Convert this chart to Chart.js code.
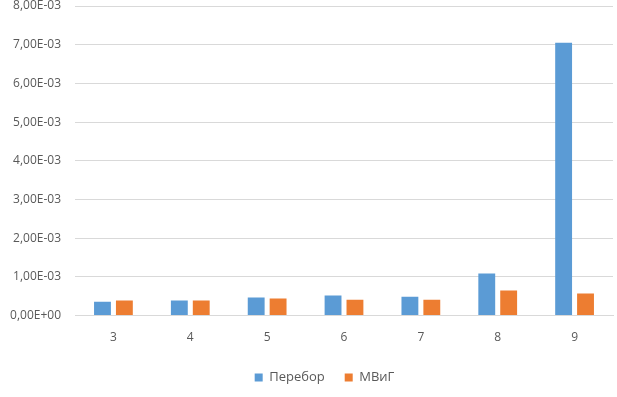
<!DOCTYPE html>
<html>
<head>
<meta charset="utf-8">
<script src="https://cdn.jsdelivr.net/npm/chart.js@4/dist/chart.umd.min.js"></script>
<style>
  html, body { margin: 0; padding: 0; background: #fff; }
  #wrap { width: 617px; height: 397px; }
</style>
</head>
<body>
<div id="wrap"><canvas id="chart" width="617" height="397"></canvas></div>
<script>
var categories = ["3", "4", "5", "6", "7", "8", "9"]
var pereborValues = [0.36e-3, 0.39e-3, 0.47e-3, 0.52e-3, 0.49e-3, 1.09e-3, 7.05e-3]
var mvigValues = [0.39e-3, 0.39e-3, 0.44e-3, 0.41e-3, 0.41e-3, 0.65e-3, 0.57e-3]

function sciLabel(value) {
  var parts = Number(value).toExponential(2).split("e")
  var mant = parts[0].replace(".", ",")
  var exp = parseInt(parts[1], 10)
  var sign = exp < 0 ? "-" : "+"
  var digits = String(Math.abs(exp)).padStart(2, "0")
  return mant + "E" + sign + digits
}

// nudge the legend right a bit, like the original
var legendShift = {
  id: "legendShift",
  afterLayout: function(chart) {
    chart.legend.left += 18
    chart.legend.right += 18
  }
}

Chart.defaults.font.family = "'Open Sans', 'Liberation Sans', sans-serif"
Chart.defaults.font.size = 12
Chart.defaults.color = "#595959"

var chart = new Chart(document.getElementById("chart"), {
  type: "bar",
  data: {
    labels: categories,
    datasets: [
      {
        label: "Перебор",
        data: pereborValues,
        backgroundColor: "#5B9BD5",
        categoryPercentage: 0.57,
        barPercentage: 0.77
      },
      {
        label: "МВиГ",
        data: mvigValues,
        backgroundColor: "#ED7D31",
        categoryPercentage: 0.57,
        barPercentage: 0.77
      }
    ]
  },
  options: {
    responsive: false,
    animation: false,
    layout: {
      padding: { top: 6, right: 4, bottom: 3, left: 0 }
    },
    scales: {
      x: {
        grid: { display: false },
        border: { display: true, color: "#D9D9D9", width: 1 },
        ticks: { padding: 6.5 }
      },
      y: {
        min: 0,
        max: 8e-3,
        afterFit: function(scale) {
          scale.width = 75
          scale.paddingTop = 0
          scale.paddingBottom = 0
        },
        border: { display: false },
        grid: { color: "#D9D9D9", drawTicks: false },
        ticks: {
          stepSize: 1e-3,
          padding: 14,
          callback: function(value) { return sciLabel(value) }
        }
      }
    },
    plugins: {
      legend: {
        position: "bottom",
        labels: {
          boxWidth: 8,
          boxHeight: 8,
          padding: 20,
          font: { size: 13 }
        }
      },
      tooltip: { enabled: false }
    }
  },
  plugins: [legendShift]
})
</script>
</body>
</html>
